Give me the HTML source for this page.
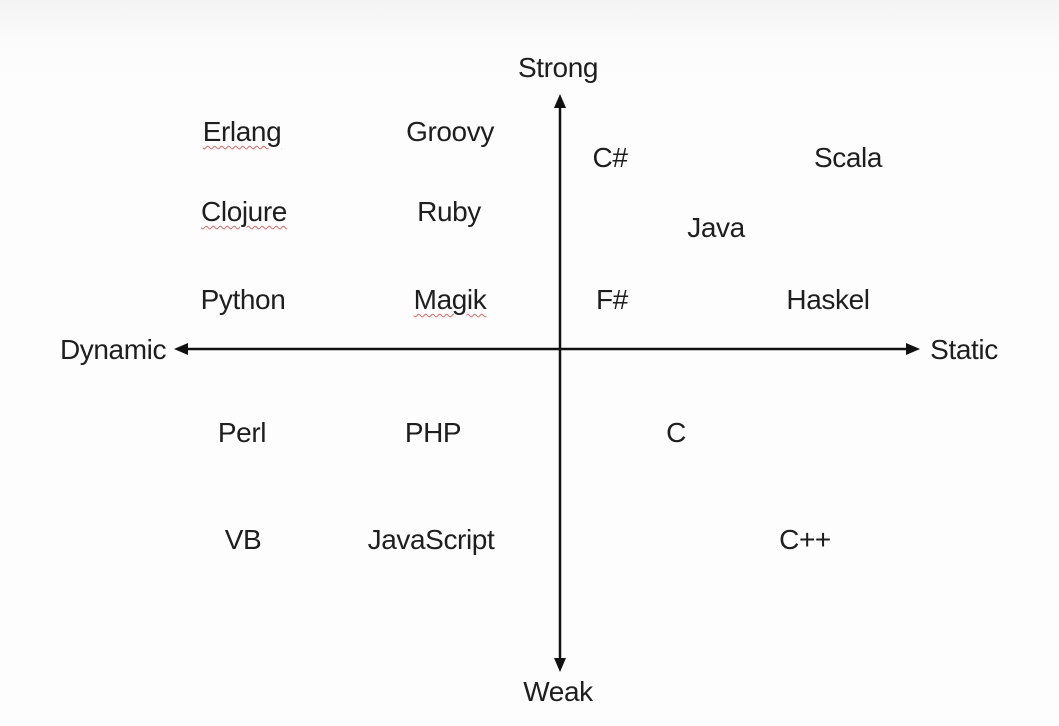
<!DOCTYPE html>
<html><head><meta charset="utf-8"><style>
html,body{margin:0;padding:0}
body{width:1059px;height:726px;background:linear-gradient(#f4f4f4 0px,#fbfbfb 40px,#fdfdfd 80px);position:relative;overflow:hidden;font-family:"Liberation Sans",sans-serif;color:#1e1e1e}
.t{position:absolute;font-size:28px;transform:translate(-50%,-50%);white-space:nowrap;letter-spacing:-0.4px}
.u{text-decoration:underline wavy #d66;text-decoration-thickness:1px;text-underline-offset:4px}
svg{position:absolute;left:0;top:0}
</style></head><body>
<svg width="1059" height="726">
<line x1="560" y1="104" x2="560" y2="662" stroke="#111" stroke-width="2.5"/>
<polygon points="560,94 554,108 566,108" fill="#111"/>
<polygon points="560,672 554,658 566,658" fill="#111"/>
<line x1="184" y1="349" x2="910" y2="349" stroke="#111" stroke-width="2.5"/>
<polygon points="174,349 188,343 188,355" fill="#111"/>
<polygon points="920,349 906,343 906,355" fill="#111"/>
</svg>
<div class="t" style="left:558px;top:68px">Strong</div>
<div class="t" style="left:558px;top:692px">Weak</div>
<div class="t" style="left:113px;top:350px">Dynamic</div>
<div class="t" style="left:964px;top:350px">Static</div>
<div class="t u" style="left:242px;top:132px">Erlang</div>
<div class="t" style="left:450px;top:132px">Groovy</div>
<div class="t" style="left:610px;top:158px">C#</div>
<div class="t" style="left:848px;top:158px">Scala</div>
<div class="t u" style="left:244px;top:212px">Clojure</div>
<div class="t" style="left:449px;top:212px">Ruby</div>
<div class="t" style="left:716px;top:228px">Java</div>
<div class="t" style="left:243px;top:300px">Python</div>
<div class="t u" style="left:450px;top:300px">Magik</div>
<div class="t" style="left:612px;top:300px">F#</div>
<div class="t" style="left:828px;top:300px">Haskel</div>
<div class="t" style="left:242px;top:433px">Perl</div>
<div class="t" style="left:433px;top:433px">PHP</div>
<div class="t" style="left:676px;top:433px">C</div>
<div class="t" style="left:243px;top:540px">VB</div>
<div class="t" style="left:431px;top:540px">JavaScript</div>
<div class="t" style="left:805px;top:540px">C++</div>
</body></html>
